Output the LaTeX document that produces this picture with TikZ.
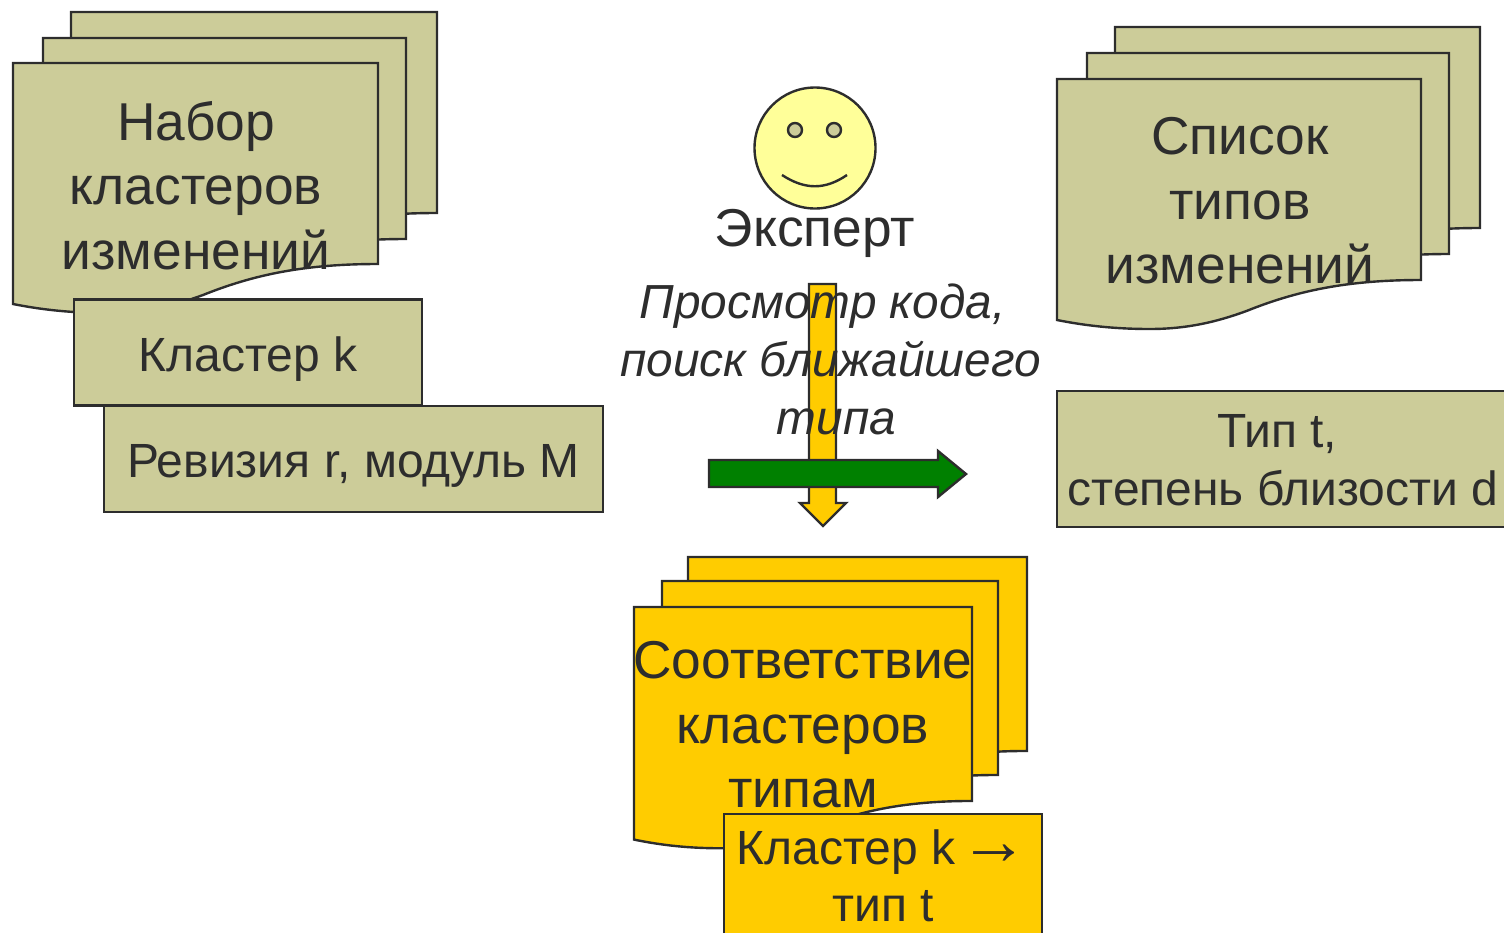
\documentclass[tikz,border=0pt]{standalone}
\usepackage{graphicx}
\usepackage{fontspec}
\setmainfont{Liberation Sans}
\usetikzlibrary{positioning}
\definecolor{khaki}{HTML}{CCCC99}
\definecolor{amber}{HTML}{FFCC00}
\definecolor{facey}{HTML}{FFFF99}
\definecolor{arrowgreen}{HTML}{008000}
\definecolor{ink}{HTML}{2D2D2D}
\tikzset{
    sheet/.style={
           draw=ink,
           line width=2.4pt,
           line join=miter,
           },
    graysheet/.style={sheet, fill=khaki},
    yellowsheet/.style={sheet, fill=amber, yscale=0.965},
    block/.style={
           rectangle,
           draw=ink,
           line width=2.4pt,
           inner sep=0pt,
           outer sep=0pt,
           text=ink,
           align=center,
           font=\fontsize{48}{58}\selectfont,
           },
    frameless/.style={
           inner sep=0pt,
           text=ink,
           align=center,
           font=\fontsize{53.3}{64.5}\selectfont,
           },
    blockarrow/.style={
           draw=ink,
           line width=2.4pt,
           },
}
\newcommand{\sheetpath}{(0,0) -- (365,0) -- (365,201) .. controls (290,201) and (240,212) .. (190,232) .. controls (160,243) and (130,250) .. (93,250) .. controls (60,250) and (30,247) .. (0,241) -- cycle}
\begin{document}
\begin{tikzpicture}[x=1pt,y=-1pt]
	\clip (0,0) rectangle (1504,932);
	% left stack
	\foreach \sx/\sy/\sw in {71/12/366,43/38/363,13/63/365}
		\draw[shift={(\sx,\sy)}, xscale=\sw/365, graysheet] \sheetpath;
	\node[frameless] (changes) at (196,185.5) {Набор\\кластеров\\изменений};
	\node[block, fill=khaki, minimum width=348pt, minimum height=106pt, text height=47pt, text depth=10pt] (cluster) at (248,352.5) {Кластер k};
	\node[block, fill=khaki, minimum width=499pt, minimum height=106pt, text height=47pt, text depth=10pt] (revision) at (353.5,459) {Ревизия r, модуль M};
	% right stack
	\foreach \sx/\sy/\sw in {1115/27/365,1087/53/362,1057/79/364}
		\draw[shift={(\sx,\sy)}, xscale=\sw/365, graysheet] \sheetpath;
	\node[frameless] (types) at (1240,201) {Список\\типов\\изменений};
	\node[block, fill=khaki, minimum width=460pt, minimum height=136pt, anchor=north west] (type) at (1057,391) {};
	\node[frameless, font=\fontsize{48}{58}\selectfont] (typetext) at (1283,460.5) {Тип t,\hspace*{12pt}\\степень близости d};
	% expert
	\node[circle, draw=ink, line width=2.4pt, fill=facey, minimum size=121pt, inner sep=0pt] (face) at (815,148) {};
	\node[circle, draw=ink, line width=2.4pt, fill=khaki, minimum size=14pt, inner sep=0pt] (eyeleft) at (795,130) {};
	\node[circle, draw=ink, line width=2.4pt, fill=khaki, minimum size=14pt, inner sep=0pt] (eyeright) at (834,130) {};
	\draw[blockarrow] (782,175) .. controls (805,190) and (825,190) .. (847,175);
	\node[frameless, below=-1pt of face] (expert) {Эксперт};
	% arrows
	\draw[blockarrow, fill=amber] (809,284) -- (836,284) -- (836,503) -- (846,503) -- (823,526) -- (800,503) -- (809,503) -- cycle;
	\node[frameless, font=\itshape\fontsize{47.8}{58}\selectfont] (review) at (830.5,359.5) {Просмотр кода,\hspace*{16pt}\\поиск ближайшего\\\hspace*{12pt}типа};
	\draw[blockarrow, fill=arrowgreen] (709,460) -- (938,460) -- (938,451) -- (966,474) -- (938,497) -- (938,487) -- (709,487) -- cycle;
	% bottom stack
	\foreach \sx/\sy/\sw in {688/557/339,662/581/336,634/607/338}
		\draw[shift={(\sx,\sy)}, xscale=\sw/365, yellowsheet] \sheetpath;
	\node[frameless] (match) at (803,725) {Соответствие\\кластеров\\типам};
	\node[block, fill=amber, minimum width=318pt, minimum height=130pt, anchor=north west] (result) at (724,814) {};
	\node[frameless, font=\fontsize{48}{57.5}\selectfont] (resulttext) at (876.5,876) {Кластер k \rlap{\hspace*{-9pt}\scalebox{1.44}{→}}\hspace*{48pt}\\\hspace*{13pt}тип t};
\end{tikzpicture}
\end{document}
